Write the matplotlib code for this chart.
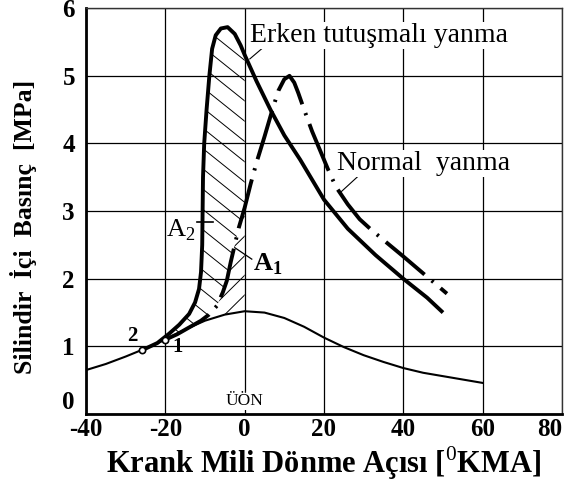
import numpy as np
import matplotlib.pyplot as plt
from matplotlib.collections import LineCollection

plt.rcParams['font.family'] = ['Liberation Serif', 'DejaVu Serif']
plt.rcParams['mathtext.fontset'] = 'custom'
plt.rcParams['mathtext.rm'] = 'Liberation Serif'
plt.rcParams['mathtext.bf'] = 'Liberation Serif:bold'
plt.rcParams['axes.unicode_minus'] = False

# motored (no combustion) pressure trace
mot_x = [-40, -35, -30, -25, -20, -15, -10, -5, 0, 5, 10, 15, 20, 25, 30, 35, 40, 45, 50, 55, 60]
mot_y = [0.65, 0.74, 0.85, 0.97, 1.10, 1.25, 1.38, 1.47, 1.52, 1.50, 1.42, 1.29, 1.13, 0.99, 0.87, 0.77, 0.68, 0.61, 0.56, 0.51, 0.46]

# early ignition (pre-ignition) combustion
erk_x = [-26, -22, -19, -16.5, -14, -12.5, -11.5, -11, -10.7, -10.6, -10.5, -10.2, -9.6, -8.9, -8.2,
         -7.3, -6, -4.3, -2.5, -1, 0, 3, 6.5, 10, 14, 20, 26, 33, 40, 46, 50]
erk_y = [0.94, 1.05, 1.19, 1.32, 1.48, 1.65, 1.85, 2.1, 2.5, 3.0, 3.5, 4.0, 4.5, 5.0, 5.4,
         5.6, 5.7, 5.72, 5.62, 5.45, 5.31, 4.92, 4.5, 4.12, 3.76, 3.17, 2.74, 2.35, 2.0, 1.72, 1.5]

# normal combustion
nor_x = [-20, -17, -14, -11, -9, -7, -5.5, -4.5, -3.5, -2.5, -1.5, 0, 1.5, 3, 5, 7, 8.5, 10, 11.3,
         12.5, 13.5, 15, 17, 19, 21, 23, 26, 29, 32, 36.5, 40, 45, 51]
nor_y = [1.1, 1.18, 1.28, 1.38, 1.47, 1.6, 1.8, 1.97, 2.25, 2.5, 2.75, 3.05, 3.4, 3.72, 4.1, 4.5, 4.78, 4.95, 5.0,
         4.9, 4.75, 4.5, 4.18, 3.9, 3.62, 3.36, 3.1, 2.88, 2.72, 2.5, 2.33, 2.08, 1.78]

xticks = [-40, -20, 0, 20, 40, 60, 80]
yticks = [0, 1, 2, 3, 4, 5, 6]

fig = plt.figure(figsize=(5.71, 4.82), dpi=100)
ax = fig.add_axes([0.1506, 0.141, 0.8336, 0.842])
ax.set_xlim(-40, 80)
ax.set_ylim(0, 6)
ax.set_xticks(xticks)
ax.set_yticks(yticks)
ax.grid(True, color='black', lw=0.9)
ax.set_axisbelow(True)
ax.tick_params(length=0, labelsize=18, pad=3)
ax.tick_params(axis='y', pad=8)
for lab in ax.get_xticklabels() + ax.get_yticklabels():
    lab.set_fontweight('bold')
ax.get_xticklabels()[-1].set_horizontalalignment('right')
ax.get_yticklabels()[0].set_verticalalignment('bottom')
for s in ['left', 'bottom']:
    ax.spines[s].set_linewidth(2.0)
for s in ['top', 'right']:
    ax.spines[s].set_linewidth(1.0)
    ax.spines[s].set_color('#333333')

ax.set_xlabel('Krank Mili Dönme Açısı [$^{0}$KMA]', fontsize=22, fontweight='bold', labelpad=2)
ax.set_ylabel('Silindir  İçi  Basınç  [MPa]', fontsize=18.5, fontweight='bold')
ax.yaxis.set_label_coords(-0.103, 0.46)

# hatched areas between the curves, left of TDC
xs = np.linspace(-20, 0, 200)
m_i = np.interp(xs, mot_x, mot_y)
n_i = np.interp(xs, nor_x, nor_y)
e_i = np.interp(xs, erk_x, erk_y)
a2 = ax.fill_between(xs, n_i, e_i, facecolor='none', edgecolor='none')
a1 = ax.fill_between(xs, m_i, n_i, facecolor='none', edgecolor='none')

hx = np.array([-30, 5])
seg2 = [np.column_stack([hx, c - 0.047 * (hx + 10)]) for c in np.arange(0.9, 6.5, 0.30)]
lc2 = LineCollection(seg2, colors='black', linewidths=0.7)
ax.add_collection(lc2)
lc2.set_clip_path(a2.get_paths()[0], ax.transData)

seg1 = [np.column_stack([hx, c + 0.058 * (hx + 10)]) for c in np.arange(0.6, 3.5, 0.29)]
lc1 = LineCollection(seg1, colors='black', linewidths=0.7)
ax.add_collection(lc1)
lc1.set_clip_path(a1.get_paths()[0], ax.transData)

ax.plot(mot_x, mot_y, color='black', lw=1.5)
ax.plot(erk_x, erk_y, color='black', lw=2.8, solid_capstyle='butt')
ax.plot(nor_x, nor_y, color='black', lw=2.8, ls=(0, (13, 2.4, 0.6, 2.4)))

# crank angle points 1 and 2
ax.plot([-26, -20.2], [0.94, 1.09], ls='none', marker='o', ms=4.5, mfc='white', mec='black', mew=1.2)
ax.text(-28.3, 1.0, '2', fontsize=15, fontweight='bold', ha='center', va='bottom')
ax.text(-16.8, 0.99, '1', fontsize=15, fontweight='bold', ha='center', va='center')

# A2 / A1 markers
ax.plot([-12, -8], [2.84, 2.84], color='black', lw=1.2)
ax.text(-12.4, 2.72, 'A$_2$', fontsize=19, ha='right', va='center')
ax.plot([-2.5, 1.8], [2.46, 2.29], color='black', lw=0.9)
ax.text(2.0, 2.22, 'A$_\\mathbf{1}$', fontsize=19, fontweight='bold', ha='left', va='center')

ax.plot([6.3, 1.3], [5.5, 5.25], color='black', lw=0.8)
ax.text(1.4, 5.6, 'Erken tutuşmalı yanma', fontsize=20, ha='left', va='center',
        bbox=dict(facecolor='white', edgecolor='none', pad=0.5))
ax.plot([28.5, 24.4], [3.51, 3.29], color='black', lw=0.8)
ax.text(23.2, 3.7, 'Normal  yanma', fontsize=20, ha='left', va='center',
        bbox=dict(facecolor='white', edgecolor='none', pad=0.5))

ax.text(0, 0.2, 'ÜÖN', fontsize=12.5, ha='center', va='center',
        bbox=dict(facecolor='white', edgecolor='none', pad=0.8))

fig.savefig('out.png', dpi=100)
